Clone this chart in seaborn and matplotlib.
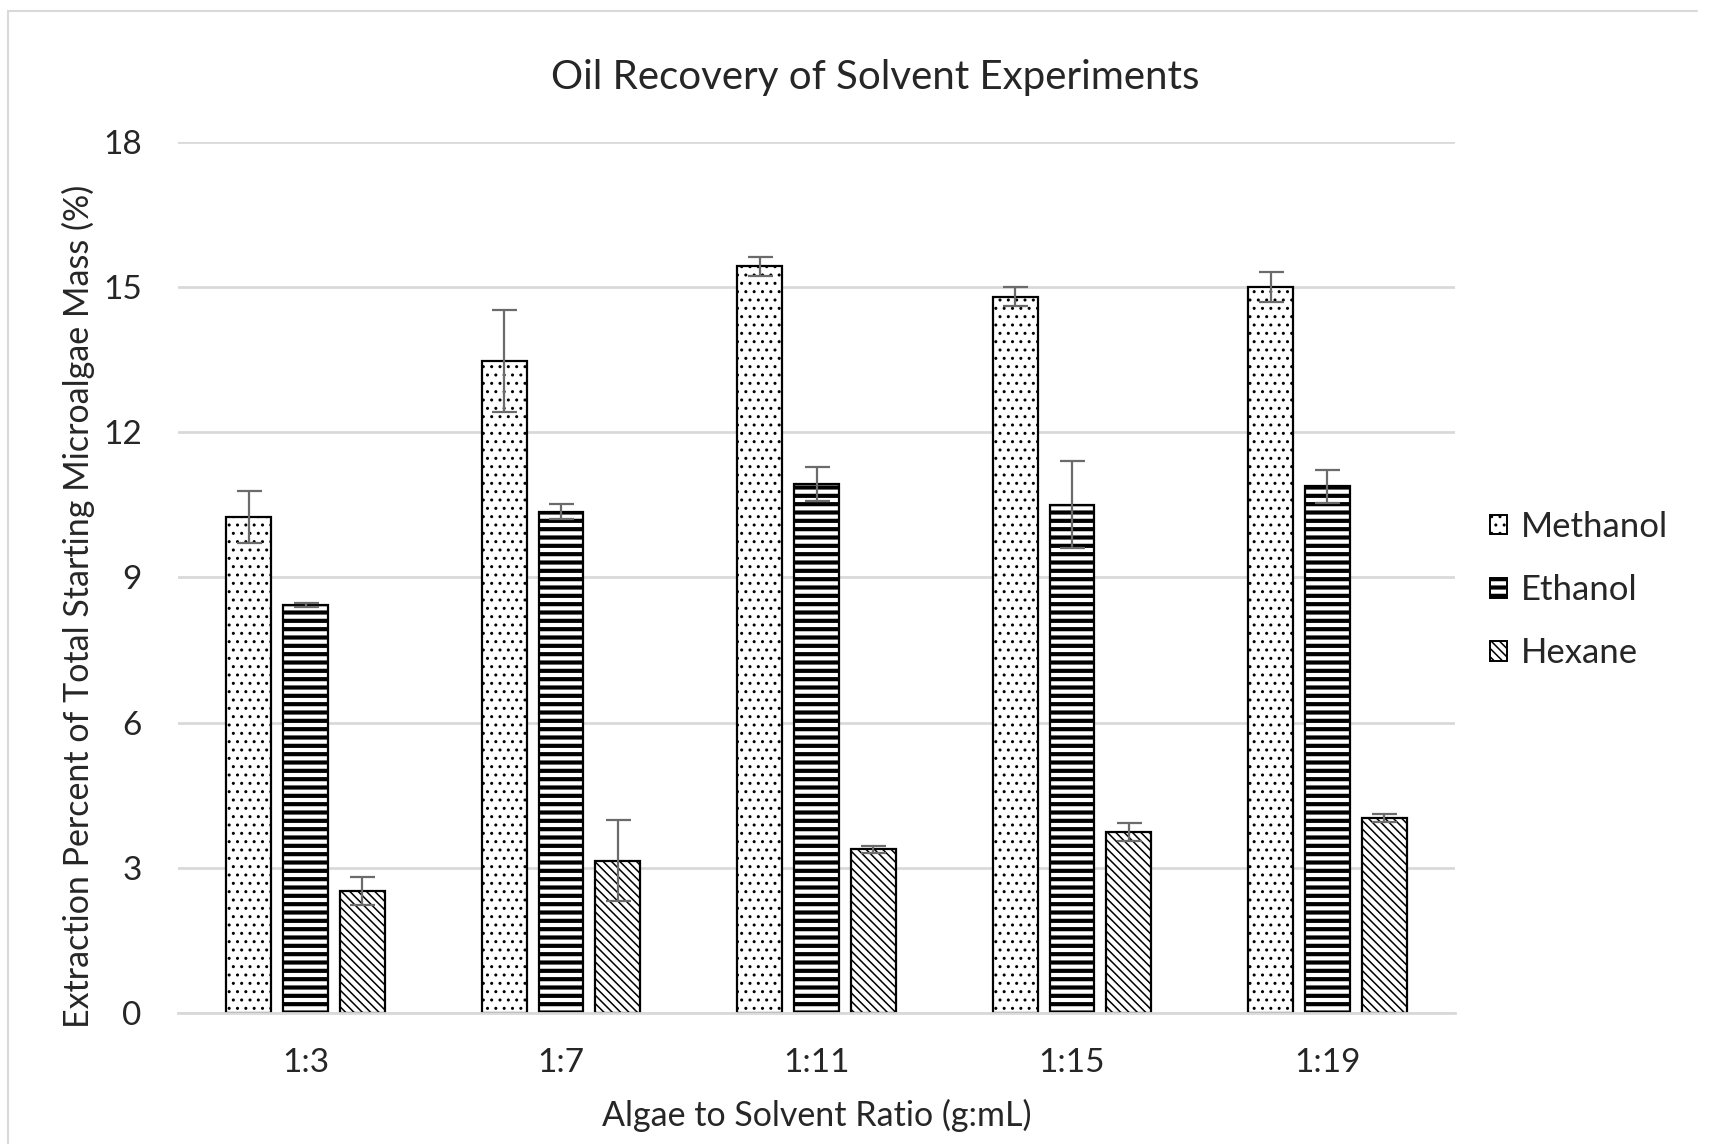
import pandas as pd
import seaborn as sns
import matplotlib.pyplot as plt
from matplotlib.patches import Patch
from matplotlib.lines import Line2D

# =====================================================
# DATA
# =====================================================

ratios = ["1:3", "1:7", "1:11", "1:15", "1:19"]
solvents = ["Methanol", "Ethanol", "Hexane"]

methanol = [10.25, 13.47, 15.43, 14.80, 15.00]
methanol_err = [0.53, 1.05, 0.20, 0.20, 0.31]

ethanol = [8.43, 10.36, 10.93, 10.50, 10.88]
ethanol_err = [0.05, 0.15, 0.35, 0.90, 0.35]

hexane = [2.52, 3.15, 3.38, 3.74, 4.03]
hexane_err = [0.28, 0.83, 0.07, 0.19, 0.08]

values = [methanol, ethanol, hexane]
errors = [methanol_err, ethanol_err, hexane_err]

df = pd.DataFrame({
    "ratio": ratios * 3,
    "solvent": [s for s in solvents for _ in ratios],
    "value": methanol + ethanol + hexane,
})

# =====================================================
# STYLE
# =====================================================

sns.set_style("white")
plt.rcParams["font.family"] = ["Lato", "DejaVu Sans"]

hatches = ["..", "--", "\\\\\\\\"]
hatch_widths = [1.0, 3.0, 1.1]
err_color = "#6b6b6b"
grid_color = "#d9d9d9"

# =====================================================
# PLOT
# =====================================================

fig = plt.figure(figsize=(17.1, 11.44), dpi=100)
ax = fig.add_axes([0.104, 0.1145, 0.747, 0.7615])

sns.barplot(
    data=df,
    x="ratio",
    y="value",
    hue="solvent",
    order=ratios,
    hue_order=solvents,
    palette=["white"] * 3,
    errorbar=None,
    width=0.667,
    gap=0.21,
    edgecolor="black",
    linewidth=1.6,
    legend=False,
    ax=ax
)

bar_groups = list(ax.containers)

for i, container in enumerate(bar_groups):
    xs = []
    for bar in container:
        bar.set_hatch(hatches[i])
        bar.set_edgecolor("black")
        if hasattr(bar, "set_hatch_linewidth"):
            bar.set_hatch_linewidth(hatch_widths[i])
        xs.append(bar.get_x() + bar.get_width() / 2)
    ax.errorbar(
        xs, values[i], yerr=errors[i],
        fmt="none", ecolor=err_color, elinewidth=1.6,
        capsize=9, capthick=1.6, zorder=5
    )

ax.set_ylim(0, 18)
ax.set_yticks([0, 3, 6, 9, 12, 15, 18])
ax.set_xlim(-0.5, len(ratios) - 0.5)

ax.yaxis.grid(True, color=grid_color, linewidth=2)
ax.set_axisbelow(True)

for side in ["left", "right", "top"]:
    ax.spines[side].set_visible(False)
ax.spines["bottom"].set_color(grid_color)
ax.spines["bottom"].set_linewidth(2)

ax.set_xticks([x + 0.5 for x in range(-1, len(ratios))], minor=True)
ax.tick_params(axis="x", which="minor", length=10, width=1.5,
               color=grid_color, direction="out")
ax.tick_params(axis="x", which="major", length=0, pad=25, labelsize=24)
ax.tick_params(axis="y", length=0, pad=26, labelsize=24)

ax.set_xlabel("Algae to Solvent Ratio (g:mL)", fontsize=24.5, labelpad=15)
ax.set_ylabel("Extraction Percent of Total Starting Microalgae Mass (%)",
              fontsize=24.5)
ax.yaxis.set_label_coords(-0.065, 0.467)

fig.text(0.512, 0.932, "Oil Recovery of Solvent Experiments",
         fontsize=29, ha="center", va="center")

handles = []
for i, s in enumerate(solvents):
    h = Patch(facecolor="white", edgecolor="black", hatch=hatches[i],
              linewidth=1.4, label=s)
    handles.append(h)

leg = fig.legend(
    handles=handles,
    loc="center left",
    bbox_to_anchor=(1490 / 1710, 1 - 590 / 1144),
    frameon=False,
    fontsize=25,
    handlelength=0.5,
    handleheight=0.5,
    handletextpad=0.4,
    labelspacing=0.9,
    borderpad=0,
    borderaxespad=0
)

for i, p in enumerate(leg.get_patches()):
    if hasattr(p, "set_hatch_linewidth"):
        p.set_hatch_linewidth(hatch_widths[i])

# chart area border (top and left edges visible in reference)
fig.add_artist(Line2D([8 / 1710, 8 / 1710], [0, 1 - 11 / 1144],
                      transform=fig.transFigure, color=grid_color, lw=1.5))
fig.add_artist(Line2D([8 / 1710, 1697 / 1710], [1 - 11 / 1144, 1 - 11 / 1144],
                      transform=fig.transFigure, color=grid_color, lw=1.5))

fig.savefig("out.png", dpi=100)
